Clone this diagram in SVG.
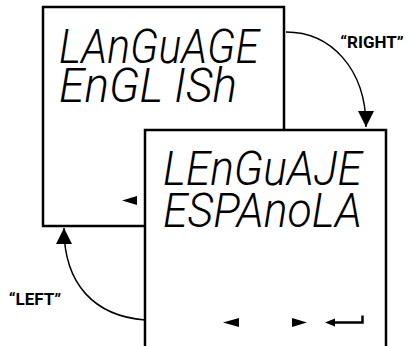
<svg xmlns="http://www.w3.org/2000/svg" width="410" height="346" viewBox="0 0 410 346">
<style>
.screen{fill:#fff;stroke:#000;stroke-width:2.5}
.lcd{font-family:Roboto,"Liberation Sans",sans-serif;font-weight:300;font-style:italic;font-size:48px;fill:#000}
.lbl{font-family:Roboto,"Liberation Sans",sans-serif;font-weight:700;font-size:17px;fill:#000}
.conn{fill:none;stroke:#000;stroke-width:1.5}
.ind{fill:#000}
</style>
<defs>
<marker id="ah" viewBox="0 0 10 10" refX="10" refY="5" markerWidth="16" markerHeight="16" markerUnits="userSpaceOnUse" orient="auto">
<path d="M0,0 L10,5 L0,10 Z" fill="#000"/>
</marker>
</defs>
<g id="screen-english">
<rect class="screen" x="43" y="7" width="241" height="219"/>
<text class="lcd" x="59" y="63" textLength="200" lengthAdjust="spacingAndGlyphs">LAnGuAGE</text>
<text class="lcd" x="59" y="102" textLength="178" lengthAdjust="spacingAndGlyphs">EnGL ISh</text>
<polygon class="ind" points="122,200.5 137,196 137,205"/>
</g>
<g id="screen-espanol">
<rect class="screen" x="145" y="130" width="241" height="230"/>
<text class="lcd" x="163" y="185" textLength="199" lengthAdjust="spacingAndGlyphs">LEnGuAJE</text>
<text class="lcd" x="163" y="227" textLength="199" lengthAdjust="spacingAndGlyphs">ESPAnoLA</text>
<polygon class="ind" points="223,322.5 239,318 239,327"/>
<polygon class="ind" points="307,322.5 292,318 292,327"/>
<polyline points="333,322.5 362.5,322.5 362.5,315.5" fill="none" stroke="#000" stroke-width="2.5"/>
<polygon class="ind" points="325,322.5 335,318.5 335,326.5"/>
</g>
<g id="connectors">
<path class="conn" d="M286,32 C330,32 366,68 366,127" marker-end="url(#ah)"/>
<path class="conn" d="M145,320 C95,316 64,285 64,228" marker-end="url(#ah)"/>
</g>
<g id="labels">
<text class="lbl" x="372" y="48" text-anchor="middle">“RIGHT”</text>
<text class="lbl" x="35" y="305" text-anchor="middle">“LEFT”</text>
</g>
</svg>
